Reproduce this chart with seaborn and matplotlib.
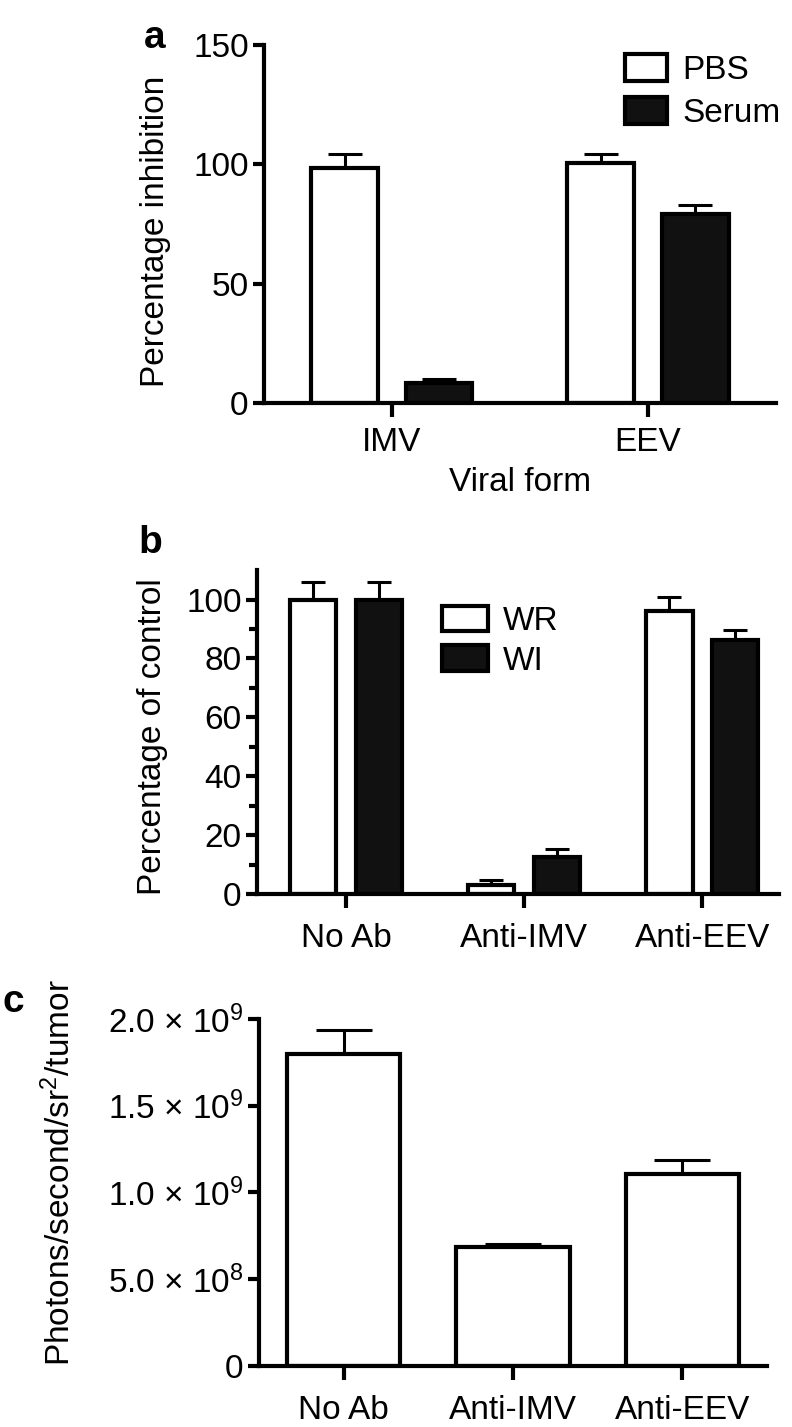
import numpy as np
import pandas as pd
import matplotlib
matplotlib.use("Agg")
import matplotlib.pyplot as plt
import seaborn as sns
from matplotlib.ticker import FixedLocator

# panel a: percentage inhibition by viral form
forms = ["IMV", "EEV"]
pbs = [98.4, 100.7]
pbs_err = [5.9, 3.6]
serum = [8.4, 79.0]
serum_err = [1.5, 3.8]

# panel b: percentage of control
groups = ["No Ab", "Anti-IMV", "Anti-EEV"]
wr = [100.0, 3.0, 96.2]
wr_err = [5.9, 1.7, 4.8]
wi = [100.0, 12.4, 86.3]
wi_err = [6.0, 2.8, 3.5]

# panel c: photons/second/sr2/tumor
c_vals = [1.80e9, 0.688e9, 1.105e9]
c_err = [0.135e9, 0.015e9, 0.085e9]
c_ticks = [0, 5e8, 1e9, 1.5e9, 2e9]
c_ticklabels = ["0", "5.0 \u00d7 $10^{8}$", "1.0 \u00d7 $10^{9}$",
                "1.5 \u00d7 $10^{9}$", "2.0 \u00d7 $10^{9}$"]

sns.set_theme(style="ticks")
plt.rcParams["font.family"] = ["Liberation Sans", "DejaVu Sans"]
plt.rcParams["mathtext.fontset"] = "custom"
plt.rcParams["mathtext.rm"] = "Liberation Sans"
plt.rcParams["mathtext.it"] = "Liberation Sans:italic"
plt.rcParams["mathtext.bf"] = "Liberation Sans:bold"
plt.rcParams["text.color"] = "black"
plt.rcParams["axes.labelcolor"] = "black"

FS = 24
LW = 3

fig = plt.figure(figsize=(7.92, 14.27), dpi=100)
ax_a = fig.add_axes([0.3333, 0.7176, 0.6465, 0.2509])
ax_b = fig.add_axes([0.3245, 0.3735, 0.6591, 0.2270])
ax_c = fig.add_axes([0.3270, 0.04275, 0.6414, 0.2432])


def style_axis(ax, xpad=7):
    sns.despine(ax=ax)
    for s in ["left", "bottom"]:
        ax.spines[s].set_linewidth(LW)
        ax.spines[s].set_color("black")
    ax.tick_params(axis="both", labelsize=FS, width=LW, color="black", labelcolor="black")
    ax.tick_params(axis="y", length=8, pad=3)
    ax.tick_params(axis="x", length=10, pad=xpad)
    ax.set_facecolor("white")


def add_errors(ax, errs, capsize):
    conts = list(ax.containers)
    for cont, err in zip(conts, errs):
        x = [p.get_x() + p.get_width() / 2 for p in cont]
        y = [p.get_height() for p in cont]
        ax.errorbar(x, y, yerr=[np.zeros(len(err)), err], fmt="none", ecolor="black",
                    elinewidth=2.2, capsize=capsize, capthick=2.2, zorder=0.5)


# ---- a ----
df_a = pd.DataFrame({"form": forms * 2,
                     "treatment": ["PBS"] * len(forms) + ["Serum"] * len(forms),
                     "value": pbs + serum})
sns.barplot(data=df_a, x="form", y="value", hue="treatment", palette=["white", "#111111"],
            edgecolor="black", linewidth=LW, width=0.74, gap=0.3, saturation=1,
            errorbar=None, legend=False, ax=ax_a)
handles_a = [ax_a.containers[0][0], ax_a.containers[1][0]]
add_errors(ax_a, [pbs_err, serum_err], 12)
ax_a.set_xlim(-0.5, 1.5)
ax_a.set_ylim(0, 150)
ax_a.set_yticks([0, 50, 100, 150])
style_axis(ax_a)
ax_a.set_xlabel("Viral form", fontsize=FS, va="center")
ax_a.xaxis.set_label_coords(0.5, -0.221)
ax_a.set_ylabel("Percentage inhibition", fontsize=FS, va="center")
ax_a.yaxis.set_label_coords(-0.211, 0.48)
ax_a.legend(handles_a, ["PBS", "Serum"], loc="upper left", bbox_to_anchor=(0.705, 0.975),
            frameon=False, fontsize=FS, handlelength=1.26, handleheight=0.87,
            handletextpad=0.45, labelspacing=0.32, borderpad=0, borderaxespad=0)

# ---- b ----
df_b = pd.DataFrame({"group": groups * 2,
                     "strain": ["WR"] * len(groups) + ["WI"] * len(groups),
                     "value": wr + wi})
sns.barplot(data=df_b, x="group", y="value", hue="strain", palette=["white", "#111111"],
            edgecolor="black", linewidth=LW, width=0.74, gap=0.3, saturation=1,
            errorbar=None, legend=False, ax=ax_b)
handles_b = [ax_b.containers[0][0], ax_b.containers[1][0]]
add_errors(ax_b, [wr_err, wi_err], 8.5)
ax_b.set_xlim(-0.5, 2.43)
ax_b.set_ylim(0, 110)
ax_b.set_yticks([0, 20, 40, 60, 80, 100])
ax_b.yaxis.set_minor_locator(FixedLocator([10, 30, 50, 70, 90]))
style_axis(ax_b, xpad=11)
ax_b.tick_params(axis="y", which="minor", length=6, width=LW, color="black")
ax_b.set_xlabel("")
ax_b.set_ylabel("Percentage of control", fontsize=FS, va="center")
ax_b.yaxis.set_label_coords(-0.201, 0.485)
ax_b.legend(handles_b, ["WR", "WI"], loc="upper left", bbox_to_anchor=(0.354, 0.89),
            frameon=False, fontsize=FS, handlelength=1.38, handleheight=0.81,
            handletextpad=0.45, labelspacing=0.25, borderpad=0, borderaxespad=0)

# ---- c ----
sns.barplot(x=groups, y=c_vals, color="white", edgecolor="black", linewidth=LW,
            width=0.67, saturation=1, errorbar=None, ax=ax_c)
add_errors(ax_c, [c_err], 20)
ax_c.set_xlim(-0.5, 2.5)
ax_c.set_ylim(0, 2e9)
ax_c.set_yticks(c_ticks)
ax_c.set_yticklabels(c_ticklabels)
style_axis(ax_c, xpad=11)
ax_c.set_ylabel("Photons/second/sr$^{2}$/tumor", fontsize=FS, va="center")
ax_c.yaxis.set_label_coords(-0.392, 0.556)

# panel letters
fig.text(144 / 792, 1 - 48 / 1427, "a", fontsize=28, fontweight="bold", va="baseline")
fig.text(138 / 792, 1 - 553 / 1427, "b", fontsize=28, fontweight="bold", va="baseline")
fig.text(3 / 792, 1 - 1012 / 1427, "c", fontsize=28, fontweight="bold", va="baseline")

fig.savefig("out.png", dpi=100, facecolor="white")
